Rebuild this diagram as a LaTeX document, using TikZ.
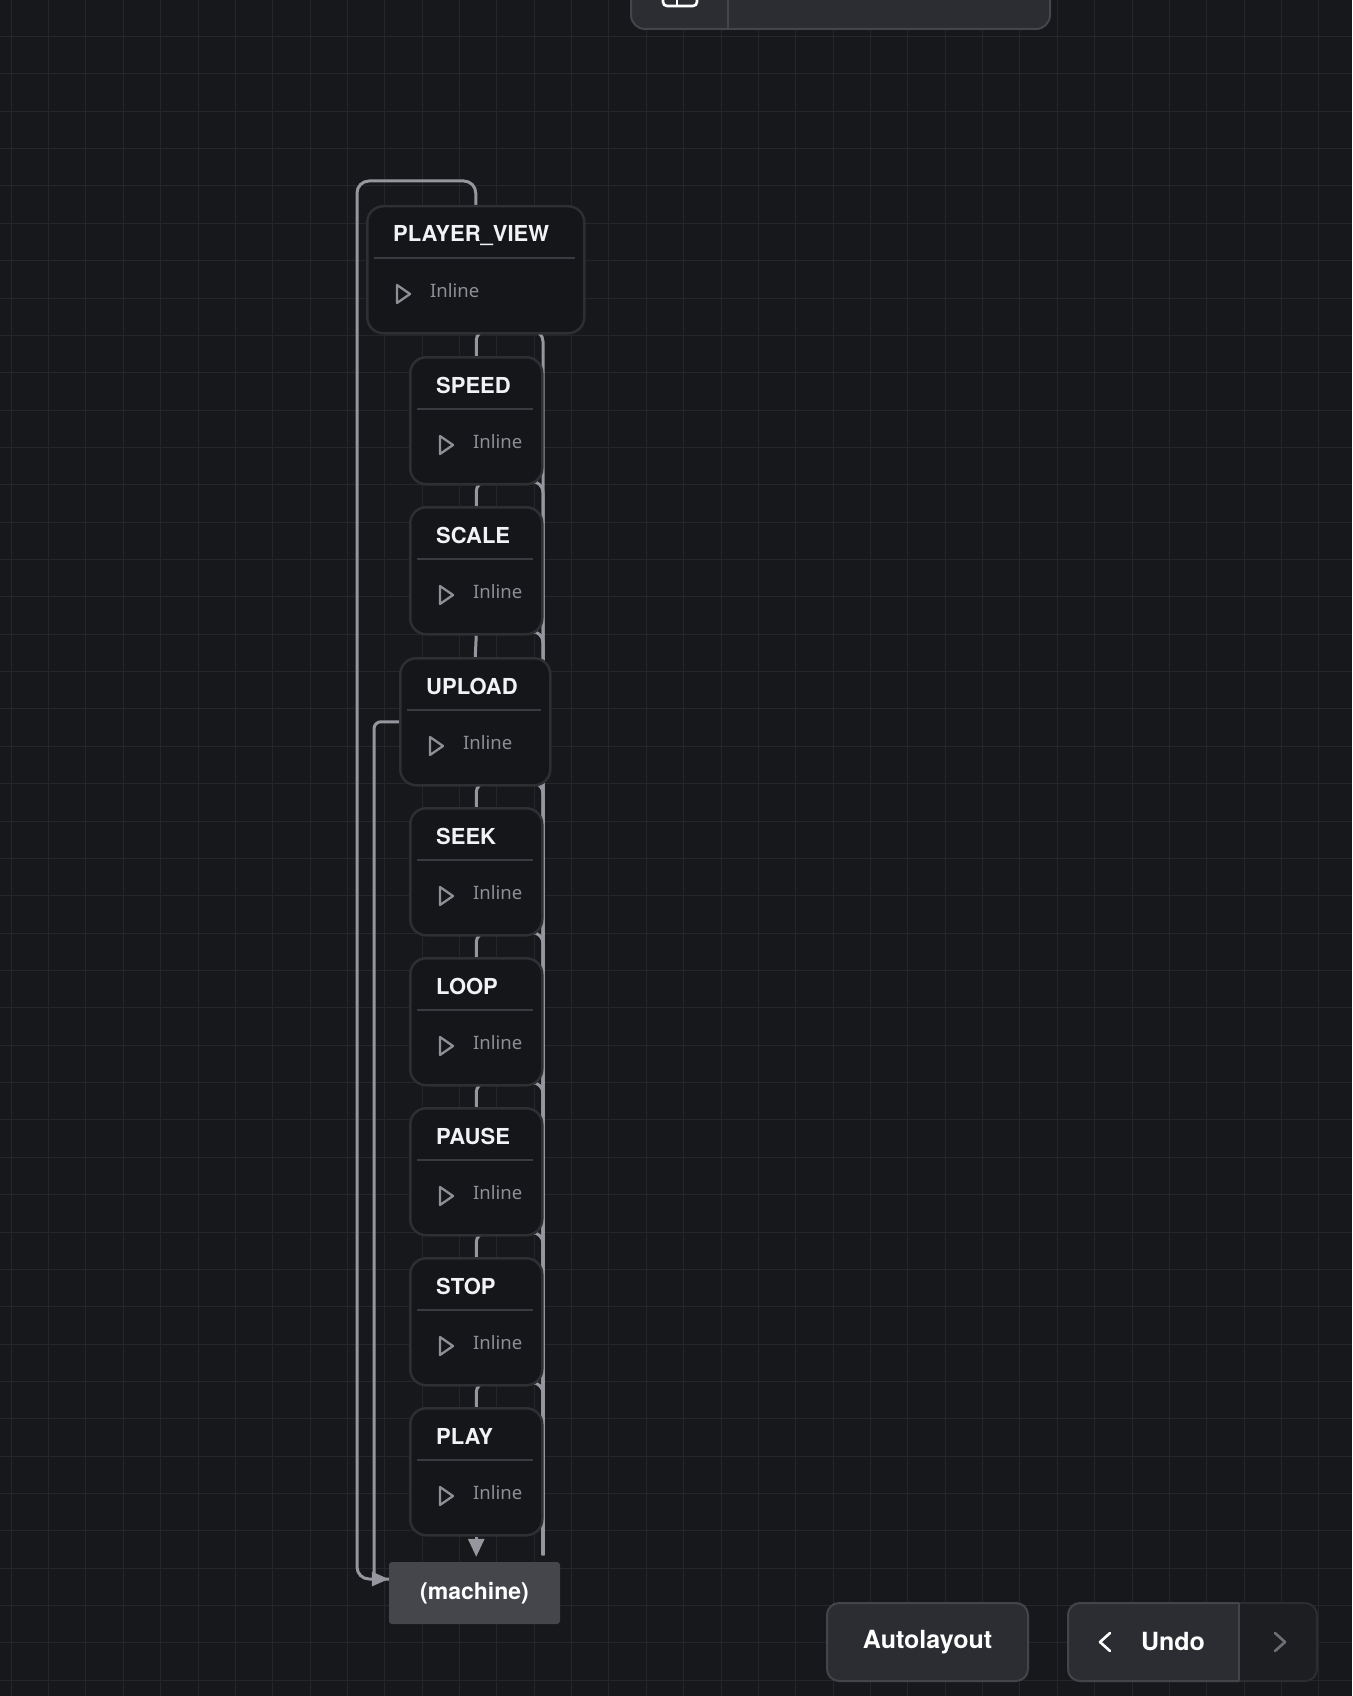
\documentclass[tikz,border=0pt]{standalone}
\usepackage{fontspec}
\setmainfont{Noto Sans}
\newfontfamily\sbf{TeX Gyre Heros}
\usetikzlibrary{arrows.meta}
\definecolor{bgc}{HTML}{17181B}
\definecolor{gridc}{HTML}{25262A}
\definecolor{boxfill}{HTML}{151619}
\definecolor{boxline}{HTML}{2E2F33}
\definecolor{divc}{HTML}{3A3B40}
\definecolor{titlec}{HTML}{F2F2F4}
\definecolor{mutedc}{HTML}{8E8E96}
\definecolor{connc}{HTML}{96969F}
\definecolor{machc}{HTML}{45464C}
\definecolor{btnfill}{HTML}{2C2D32}
\definecolor{btnline}{HTML}{44454A}
\definecolor{btnoff}{HTML}{1D1E21}
\definecolor{btnoffline}{HTML}{2C2D31}
\definecolor{chevoff}{HTML}{6E6E75}
\pgfdeclarelayer{bglayer}
\pgfdeclarelayer{edgelayer}
\pgfsetlayers{bglayer,edgelayer,main}
\tikzset{
  stbox/.style={draw=boxline, line width=2.5pt, fill=boxfill, rounded corners=16pt,
    inner sep=0pt, anchor=north west, minimum height=127pt},
  ttl/.style={text=titlec, font=\fontsize{22}{22}\sbf\bfseries, inner sep=0pt, anchor=base west},
  inl/.style={text=mutedc, font=\fontsize{18.5}{18.5}\selectfont, inner sep=0pt, anchor=base west},
  divline/.style={draw=divc, line width=1.8pt},
  tri/.style={draw=mutedc, line width=2.3pt, line join=round},
  conn/.style={draw=connc, line width=3pt},
  tip/.style={-{Triangle[length=17pt,width=14pt]}},
  gridline/.style={draw=gridc, line width=1pt},
  btn/.style={draw=btnline, fill=btnfill, line width=2pt, rounded corners=12pt, text=white,
    font=\fontsize{25}{25}\sbf\bfseries, inner sep=0pt},
  machbox/.style={fill=machc, rounded corners=3pt, text=white, inner sep=0pt,
    font=\fontsize{23}{23}\sbf\bfseries, minimum width=171pt, minimum height=62pt},
  chev/.style={line width=2.6pt, line cap=round, line join=round},
}
\newcommand\stnode[5]{%
  \node[stbox, minimum width=#4pt] (#1) at (#2,#3) {};
  \draw[divline] (#2+8,#3+53) -- (#2+#4-8,#3+53);
  \draw[tri] (#2+31,#3+80) -- (#2+44,#3+89) -- (#2+31,#3+98) -- cycle;
  \node[ttl] (#1-t) at (#2+27,#3+37) {#5};
  \node[inl] (#1-i) at (#2+64,#3+92) {Inline};
}
\begin{document}
\begin{tikzpicture}[x=1pt,y=-1pt]
\useasboundingbox (0,0) rectangle (1352,1696);
\begin{pgfonlayer}{bglayer}
  \fill[bgc] (0,0) rectangle (1352,1696);
  \foreach \k in {0,...,35} {
    \pgfmathsetmacro\gx{round(10.7+37.36*\k)+0.5}
    \draw[gridline] (\gx,0) -- (\gx,1696);
  }
  \foreach \k in {0,...,44} {
    \pgfmathsetmacro\gy{round(36+37.36*\k)+0.5}
    \draw[gridline] (0,\gy) -- (1352,\gy);
  }
\end{pgfonlayer}

% states
\stnode{pv}{366}{205}{217}{PLAYER\_VIEW}
\stnode{speed}{409}{356}{132}{SPEED}
\stnode{scale}{409}{506}{132}{SCALE}
\stnode{upload}{399}{657}{150}{UPLOAD}
\stnode{seek}{409}{807}{132}{SEEK}
\stnode{loop}{409}{957}{132}{LOOP}
\stnode{pause}{409}{1107}{132}{PAUSE}
\stnode{stop}{409}{1257}{132}{STOP}
\stnode{play}{409}{1407}{132}{PLAY}
\node[machbox] (machine) at (474.5,1593) {(machine)};

% edges
\begin{pgfonlayer}{edgelayer}
  \foreach \a/\b in {pv/speed, speed/scale, upload/seek, seek/loop, loop/pause, pause/stop, stop/play}
    \draw[conn, rounded corners=10pt] ([xshift=14pt,yshift=4pt]\a.south) -| (\b.north);
  \draw[conn] (scale.south) -- (upload.north);
  \coordinate (tx) at (526,0);
  \coordinate (mtop) at (543,1555);
  \foreach \a in {pv,speed,scale,upload,seek,loop,pause,stop}
    \draw[conn, rounded corners=11pt] ([yshift=4pt]\a.south -| tx) -| (mtop);
  \coordinate (lptl) at (357,181);
  \coordinate (marr) at ([yshift=14pt]machine.west);
  \coordinate (ulc) at (374,1579);
  \draw[conn, rounded corners=7pt] (upload.west) -| (ulc) -- (marr);
  \draw[conn, tip, rounded corners=12pt] (pv.north) |- (lptl) |- (marr);
  \draw[conn, -{Triangle[length=18pt,width=16pt]}, shorten >=5pt] (play.south) -- (play.south |- machine.north);
\end{pgfonlayer}

% top toolbar
\draw[fill=btnfill, draw=btnline, line width=2pt, rounded corners=14pt] (631,-40) rectangle (1050,29);
\draw[draw=btnline, line width=2pt] (728,-40) -- (728,28);
\draw[white, line width=2.6pt, rounded corners=4pt] (663,-24) rectangle (697,6);
\draw[white, line width=2.6pt] (677,-24) -- (677,5);

% bottom buttons
\node[btn, minimum width=201pt, minimum height=78pt] (autob) at (927.5,1642) {Autolayout};
\draw[fill=btnoff, draw=btnoffline, line width=2pt, rounded corners=12pt] (1068,1603) rectangle (1317,1681);
\begin{scope}
  \clip (1060,1595) rectangle (1239,1690);
  \draw[fill=btnfill, draw=btnline, line width=2pt, rounded corners=12pt] (1068,1603) rectangle (1262,1681);
\end{scope}
\draw[draw=btnline, line width=2pt] (1239,1603) -- (1239,1681);
\node[text=white, font=\fontsize{25}{25}\sbf\bfseries, inner sep=0pt] (undob) at (1173,1642) {Undo};
\draw[chev, white] (1110,1633) -- (1100,1642) -- (1110,1651);
\draw[chev, chevoff] (1275,1633) -- (1285,1642) -- (1275,1651);
\end{tikzpicture}
\end{document}
